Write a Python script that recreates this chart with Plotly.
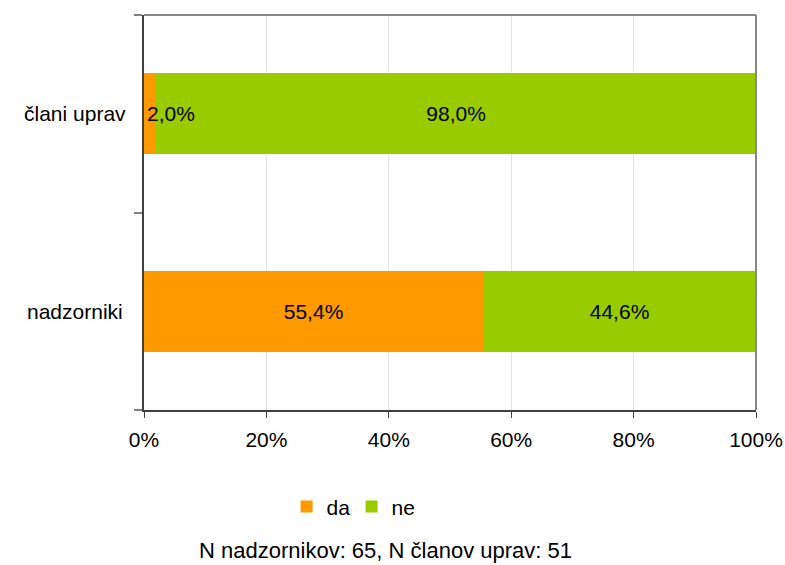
import plotly.graph_objects as go

# Survey groups (bottom to top) and shares of answers, in percent
categories = ["nadzorniki", "člani uprav"]
da_values = [55.4, 2.0]
ne_values = [44.6, 98.0]
x_ticks = [0, 20, 40, 60, 80, 100]
x_tick_labels = ["0%", "20%", "40%", "60%", "80%", "100%"]
footnote = "N nadzornikov: 65, N članov uprav: 51"

FONT = "Liberation Sans, Arial, sans-serif"
FS = 21
ORANGE = "#FF9900"
GREEN = "#99CC00"


def pct(v):
    return f"{v:.1f}%".replace(".", ",")


fig = go.Figure()

# "da" bars: labels drawn only where the segment is wide enough
fig.add_trace(go.Bar(
    name="da", y=categories, x=da_values, orientation="h",
    marker=dict(color=ORANGE, line=dict(width=0)),
    text=[pct(v) if v >= 10 else "" for v in da_values],
    textposition="inside", insidetextanchor="middle",
    textfont=dict(family=FONT, size=FS, color="black"),
    width=0.41, hoverinfo="skip",
))
fig.add_trace(go.Bar(
    name="ne", y=categories, x=ne_values, orientation="h",
    marker=dict(color=GREEN, line=dict(width=0)),
    text=[pct(v) for v in ne_values],
    textposition="inside", insidetextanchor="middle",
    textfont=dict(family=FONT, size=FS, color="black"),
    width=0.41, hoverinfo="skip",
))

# narrow "da" segments get their label just right of the axis
for cat, v in zip(categories, da_values):
    if v < 10:
        fig.add_annotation(x=0, y=cat, xref="x", yref="y", text=pct(v),
                           showarrow=False, xanchor="left", xshift=1,
                           font=dict(family=FONT, size=FS, color="black"))

# category names centred in the left margin
for cat in categories:
    fig.add_annotation(x=-0.113, y=cat, xref="paper", yref="y", text=cat,
                       showarrow=False, xanchor="center",
                       font=dict(family=FONT, size=FS, color="black"))

# top and right frame in grey
fig.add_shape(type="line", xref="paper", yref="paper", x0=0, x1=1, y0=1, y1=1,
              line=dict(color="#888888", width=2))
fig.add_shape(type="line", xref="paper", yref="paper", x0=1, x1=1, y0=0, y1=1,
              line=dict(color="#888888", width=2))

fig.add_annotation(x=0.395, y=-0.355, xref="paper", yref="paper", text=footnote,
                   showarrow=False, yanchor="middle", xanchor="center",
                   font=dict(family=FONT, size=22, color="black"))

fig.update_layout(
    barmode="stack",
    width=785, height=565,
    margin=dict(l=144, r=29, t=15, b=155, autoexpand=False),
    paper_bgcolor="white", plot_bgcolor="white",
    font=dict(family=FONT, size=FS, color="black"),
    showlegend=True,
    legend=dict(orientation="h", x=0.233, y=-0.245, xanchor="left", yanchor="middle",
                font=dict(family=FONT, size=FS), traceorder="normal",
                entrywidth=20, entrywidthmode="pixels", itemwidth=30,
                itemclick=False),
    xaxis=dict(
        range=[0, 100], tickvals=x_ticks, ticktext=x_tick_labels,
        showgrid=True, gridcolor="#E3E3E3", gridwidth=1,
        showline=True, linecolor="#404040", linewidth=2,
        ticks="outside", ticklen=6, tickcolor="#404040", tickwidth=1,
        ticklabelstandoff=4, automargin=False,
        tickfont=dict(family=FONT, size=FS), zeroline=False, fixedrange=True,
    ),
    yaxis=dict(
        type="category", categoryorder="array", categoryarray=categories,
        range=[-0.5, 1.5], showticklabels=False, tickson="boundaries",
        ticks="outside", ticklen=8, tickcolor="#808080", tickwidth=2,
        showline=True, linecolor="#404040", linewidth=2, automargin=False,
        showgrid=False, zeroline=False, fixedrange=True,
    ),
)

fig.write_html("out.html")
